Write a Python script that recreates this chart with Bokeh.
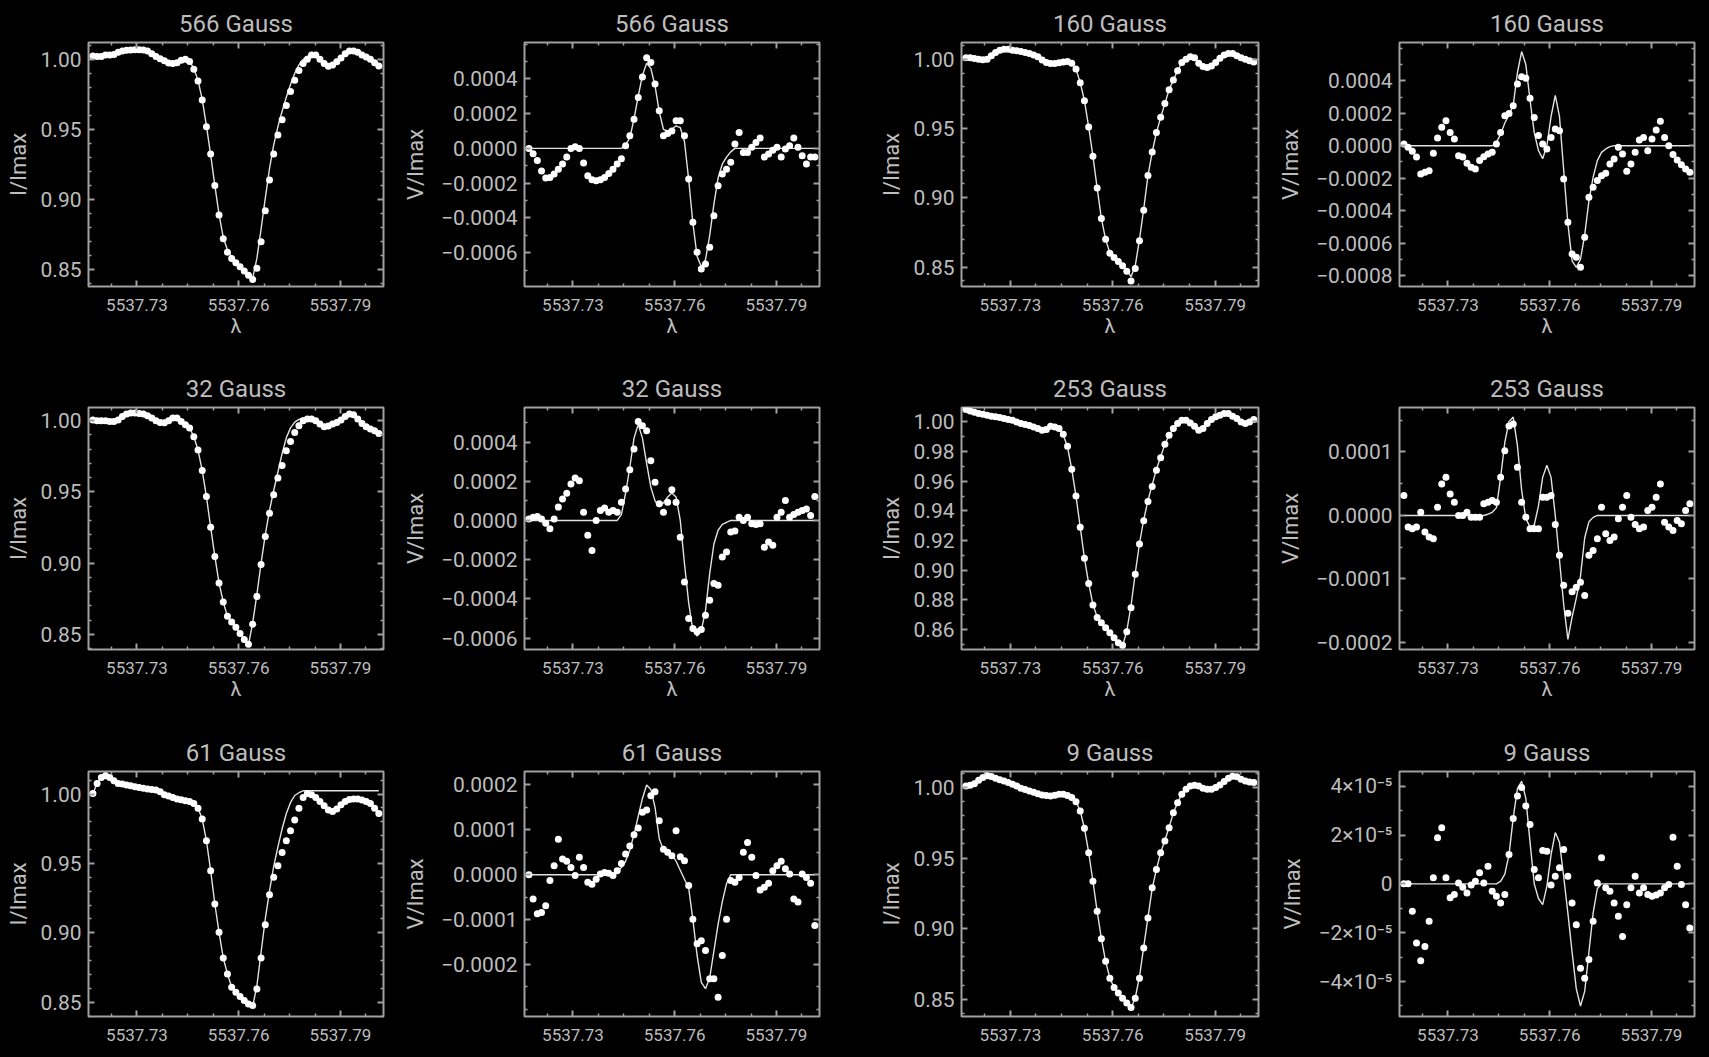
from bokeh.plotting import figure
from bokeh.models import Range1d, LinearAxis, FixedTicker, CustomJSTickFormatter, ColumnDataSource
from bokeh.layouts import row, column
from bokeh.embed import file_html
from bokeh.resources import INLINE

# ---------------- data ----------------
WAVE = [5537.71700, 5537.71824, 5537.71948, 5537.72072, 5537.72196, 5537.72320, 5537.72444, 5537.72568,
        5537.72692, 5537.72816, 5537.72940, 5537.73064, 5537.73188, 5537.73312, 5537.73436, 5537.73560,
        5537.73684, 5537.73808, 5537.73932, 5537.74056, 5537.74180, 5537.74304, 5537.74428, 5537.74552,
        5537.74676, 5537.74800, 5537.74924, 5537.75048, 5537.75172, 5537.75296, 5537.75420, 5537.75544,
        5537.75668, 5537.75792, 5537.75916, 5537.76040, 5537.76164, 5537.76288, 5537.76412, 5537.76536,
        5537.76660, 5537.76784, 5537.76908, 5537.77032, 5537.77156, 5537.77280, 5537.77404, 5537.77528,
        5537.77652, 5537.77776, 5537.77900, 5537.78024, 5537.78148, 5537.78272, 5537.78396, 5537.78520,
        5537.78644, 5537.78768, 5537.78892, 5537.79016, 5537.79140, 5537.79264, 5537.79388, 5537.79512,
        5537.79636, 5537.79760, 5537.79884, 5537.80008, 5537.80132]

I566 = [1.0024, 1.0020, 1.0020, 1.0030, 1.0030, 1.0035, 1.0050, 1.0060, 1.0064, 1.0066,
        1.0069, 1.0069, 1.0066, 1.0060, 1.0040, 1.0020, 1.0005, 0.9990, 0.9974, 0.9970,
        0.9976, 0.9993, 1.0000, 0.9985, 0.9930, 0.9845, 0.9710, 0.9520, 0.9325, 0.9100,
        0.8890, 0.8720, 0.8625, 0.8580, 0.8550, 0.8520, 0.8490, 0.8460, 0.8430, 0.8510,
        0.8700, 0.8920, 0.9140, 0.9325, 0.9460, 0.9570, 0.9670, 0.9770, 0.9850, 0.9920,
        0.9970, 1.0000, 1.0030, 1.0030, 1.0000, 0.9970, 0.9950, 0.9960, 0.9983, 1.0010,
        1.0040, 1.0060, 1.0060, 1.0050, 1.0030, 1.0017, 1.0000, 0.9976, 0.9953]
I566_FIT = [1.0024, 1.0020, 1.0020, 1.0030, 1.0030, 1.0035, 1.0050, 1.0060, 1.0064, 1.0066,
            1.0069, 1.0069, 1.0066, 1.0060, 1.0040, 1.0020, 1.0005, 0.9990, 0.9974, 0.9970,
            0.9976, 0.9993, 1.0000, 0.9985, 0.9935, 0.9850, 0.9715, 0.9525, 0.9320, 0.9100,
            0.8895, 0.8730, 0.8640, 0.8590, 0.8555, 0.8520, 0.8490, 0.8460, 0.8440, 0.8580,
            0.8790, 0.9010, 0.9220, 0.9390, 0.9520, 0.9630, 0.9730, 0.9820, 0.9900, 0.9960,
            1.0000, 1.0020, 1.0030, 1.0030, 1.0000, 0.9970, 0.9950, 0.9960, 0.9983, 1.0010,
            1.0040, 1.0060, 1.0060, 1.0050, 1.0030, 1.0017, 1.0000, 0.9976, 0.9953]

V566 = [0.0, -0.30e-4, -0.70e-4, -1.30e-4, -1.70e-4, -1.67e-4, -1.47e-4, -1.20e-4, -0.90e-4, -0.50e-4,
        0.0, 0.10e-4, 0.0, -0.84e-4, -1.57e-4, -1.80e-4, -1.86e-4, -1.80e-4, -1.67e-4, -1.44e-4,
        -1.20e-4, -0.90e-4, -0.60e-4, 0.15e-4, 0.73e-4, 1.68e-4, 2.93e-4, 4.10e-4, 5.22e-4, 4.94e-4,
        3.70e-4, 2.16e-4, 0.73e-4, 0.86e-4, 1.00e-4, 1.59e-4, 1.59e-4, 0.73e-4, -1.76e-4, -4.25e-4,
        -5.97e-4, -6.93e-4, -6.64e-4, -5.68e-4, -3.87e-4, -2.14e-4, -1.47e-4, -1.20e-4, -0.80e-4, 0.25e-4,
        0.92e-4, -0.23e-4, -0.23e-4, 0.06e-4, 0.34e-4, 0.60e-4, -0.50e-4, -0.32e-4, -0.10e-4, 0.06e-4,
        -0.50e-4, -0.04e-4, 0.15e-4, 0.60e-4, 0.06e-4, -0.42e-4, -0.90e-4, -0.50e-4, -0.50e-4]
V566_FIT = [0, 0, 0, 0, 0, 0, 0, 0, 0, 0,
            0, 0, 0, 0, 0, 0, 0, 0, 0, 0,
            0, 0, 0, 0.2e-4, 0.6e-4, 1.7e-4, 3.0e-4, 4.2e-4, 4.9e-4, 4.6e-4,
            3.6e-4, 2.1e-4, 1.1e-4, 1.0e-4, 1.1e-4, 1.3e-4, 1.2e-4, 0.4e-4, -1.8e-4, -4.3e-4,
            -6.2e-4, -6.8e-4, -6.4e-4, -5.0e-4, -3.2e-4, -1.7e-4, -0.9e-4, -0.5e-4, -0.2e-4, 0,
            0, 0, 0, 0, 0, 0, 0, 0, 0, 0,
            0, 0, 0, 0, 0, 0, 0, 0, 0]

I160 = [1.0010, 1.0010, 1.0005, 1.0000, 0.9995, 1.0000, 1.0024, 1.0048, 1.0065, 1.0072,
        1.0072, 1.0065, 1.0060, 1.0055, 1.0048, 1.0040, 1.0030, 1.0017, 0.9993, 0.9976,
        0.9969, 0.9969, 0.9974, 0.9980, 0.9983, 0.9970, 0.9928, 0.9830, 0.9700, 0.9510,
        0.9300, 0.9070, 0.8850, 0.8700, 0.8600, 0.8570, 0.8540, 0.8510, 0.8470, 0.8400,
        0.8490, 0.8690, 0.8910, 0.9160, 0.9330, 0.9470, 0.9580, 0.9680, 0.9780, 0.9850,
        0.9916, 0.9976, 1.0000, 1.0017, 1.0010, 0.9970, 0.9947, 0.9940, 0.9950, 0.9976,
        1.0007, 1.0030, 1.0040, 1.0040, 1.0024, 1.0010, 1.0000, 0.9988, 0.9980]
I160_FIT = [1.0010, 1.0010, 1.0005, 1.0000, 0.9995, 1.0000, 1.0024, 1.0048, 1.0065, 1.0072,
            1.0072, 1.0065, 1.0060, 1.0055, 1.0048, 1.0040, 1.0030, 1.0017, 0.9993, 0.9976,
            0.9969, 0.9969, 0.9974, 0.9980, 0.9983, 0.9970, 0.9928, 0.9830, 0.9700, 0.9510,
            0.9300, 0.9070, 0.8850, 0.8700, 0.8600, 0.8570, 0.8540, 0.8510, 0.8480, 0.8430,
            0.8510, 0.8700, 0.8920, 0.9160, 0.9330, 0.9470, 0.9580, 0.9680, 0.9780, 0.9850,
            0.9916, 0.9976, 1.0000, 1.0017, 1.0010, 0.9970, 0.9947, 0.9940, 0.9950, 0.9976,
            1.0007, 1.0030, 1.0040, 1.0040, 1.0024, 1.0010, 1.0000, 0.9988, 0.9980]

V160 = [0.10e-4, -0.10e-4, -0.35e-4, -0.70e-4, -1.74e-4, -1.64e-4, -1.54e-4, -0.47e-4, 0.47e-4, 1.13e-4,
        1.54e-4, 0.82e-4, 0.41e-4, -0.62e-4, -0.70e-4, -1.09e-4, -1.33e-4, -1.44e-4, -0.92e-4, -0.68e-4,
        -0.51e-4, -0.41e-4, 0.10e-4, 0.82e-4, 1.85e-4, 1.99e-4, 2.46e-4, 3.80e-4, 4.25e-4, 4.16e-4,
        2.93e-4, 1.74e-4, 0.62e-4, 0.10e-4, -0.20e-4, 0.51e-4, 1.03e-4, 0.92e-4, -2.05e-4, -4.72e-4,
        -6.67e-4, -6.87e-4, -7.49e-4, -5.64e-4, -3.18e-4, -2.56e-4, -2.15e-4, -1.85e-4, -1.70e-4, -1.13e-4,
        -0.82e-4, -0.10e-4, -0.51e-4, -1.58e-4, -1.13e-4, -0.41e-4, 0.35e-4, 0.51e-4, -0.31e-4, 0.41e-4,
        0.96e-4, 1.50e-4, 0.51e-4, 0.0, -0.55e-4, -0.88e-4, -1.17e-4, -1.44e-4, -1.64e-4]
V160_FIT = [0, 0, 0, 0, 0, 0, 0, 0, 0, 0,
            0, 0, 0, 0, 0, 0, 0, 0, 0, 0,
            0, 0, 0.2e-4, 0.7e-4, 1.4e-4, 1.9e-4, 2.5e-4, 4.5e-4, 5.8e-4, 5.0e-4,
            2.8e-4, 0.8e-4, -0.3e-4, -0.8e-4, 0.0, 1.8e-4, 3.1e-4, 1.8e-4, -1.5e-4, -4.8e-4,
            -7.1e-4, -7.5e-4, -7.0e-4, -5.5e-4, -3.4e-4, -1.95e-4, -0.92e-4, -0.41e-4, -0.2e-4, -0.06e-4,
            0, 0, 0, 0, 0, 0, 0, 0, 0, 0,
            0, 0, 0, 0, 0, 0, 0, 0, 0]

I32 = [1.0005, 1.0000, 1.0000, 1.0000, 0.9995, 0.9995, 1.0005, 1.0030, 1.0047, 1.0054,
       1.0054, 1.0051, 1.0047, 1.0035, 1.0019, 1.0000, 0.9988, 0.9986, 1.0000, 1.0019,
       1.0019, 0.9995, 0.9972, 0.9949, 0.9888, 0.9794, 0.9650, 0.9467, 0.9252, 0.9047,
       0.8860, 0.8727, 0.8626, 0.8586, 0.8550, 0.8505, 0.8463, 0.8430, 0.8570, 0.8766,
       0.8990, 0.9187, 0.9350, 0.9480, 0.9598, 0.9685, 0.9790, 0.9855, 0.9918, 0.9965,
       1.0000, 1.0012, 1.0012, 1.0000, 0.9977, 0.9958, 0.9963, 0.9977, 0.9988, 1.0005,
       1.0030, 1.0047, 1.0042, 1.0012, 0.9981, 0.9958, 0.9942, 0.9930, 0.9911]
I32_FIT = [1.0005, 1.0000, 1.0000, 1.0000, 0.9995, 0.9995, 1.0005, 1.0030, 1.0047, 1.0054,
           1.0054, 1.0051, 1.0047, 1.0035, 1.0019, 1.0000, 0.9988, 0.9986, 1.0000, 1.0019,
           1.0019, 0.9995, 0.9972, 0.9949, 0.9888, 0.9794, 0.9650, 0.9467, 0.9252, 0.9047,
           0.8860, 0.8727, 0.8626, 0.8586, 0.8550, 0.8505, 0.8463, 0.8425, 0.8580, 0.8780,
           0.9000, 0.9200, 0.9370, 0.9510, 0.9640, 0.9770, 0.9880, 0.9950, 0.9990, 1.0010,
           1.0020, 1.0020, 1.0012, 1.0000, 0.9977, 0.9958, 0.9963, 0.9977, 0.9988, 1.0005,
           1.0030, 1.0047, 1.0042, 1.0012, 0.9981, 0.9958, 0.9942, 0.9930, 0.9911]

V32 = [0.08e-4, 0.17e-4, 0.20e-4, 0.08e-4, -0.14e-4, -0.42e-4, 0.08e-4, 0.68e-4, 1.10e-4, 1.39e-4,
       1.86e-4, 2.17e-4, 2.03e-4, 0.42e-4, -0.76e-4, -1.53e-4, 0.0, 0.51e-4, 0.64e-4, 0.42e-4,
       0.51e-4, 0.42e-4, 0.93e-4, 1.61e-4, 2.58e-4, 3.64e-4, 5.05e-4, 4.83e-4, 4.58e-4, 3.05e-4,
       1.95e-4, 0.85e-4, 0.42e-4, 0.93e-4, 1.56e-4, 0.93e-4, -0.85e-4, -3.14e-4, -5.00e-4, -5.51e-4,
       -5.68e-4, -5.56e-4, -4.83e-4, -4.07e-4, -3.22e-4, -3.30e-4, -1.86e-4, -1.61e-4, -0.59e-4, -0.54e-4,
       0.17e-4, 0.0, 0.17e-4, -0.17e-4, -0.20e-4, -0.17e-4, -1.36e-4, -1.10e-4, -1.27e-4, 0.17e-4,
       0.42e-4, 1.02e-4, 0.17e-4, 0.31e-4, 0.42e-4, 0.51e-4, 0.59e-4, 0.25e-4, 1.22e-4]
V32_FIT = [0, 0, 0, 0, 0, 0, 0, 0, 0, 0,
           0, 0, 0, 0, 0, 0, 0, 0, 0, 0,
           0, 0, 0.3e-4, 1.4e-4, 2.7e-4, 4.2e-4, 4.9e-4, 4.2e-4, 2.9e-4, 1.7e-4,
           1.0e-4, 0.7e-4, 0.9e-4, 1.2e-4, 1.4e-4, 1.2e-4, 0.0, -2.2e-4, -4.2e-4, -5.6e-4,
           -5.9e-4, -5.6e-4, -4.6e-4, -2.7e-4, -1.2e-4, -0.5e-4, -0.2e-4, -0.1e-4, 0, 0,
           0, 0, 0, 0, 0, 0, 0, 0, 0, 0,
           0, 0, 0, 0, 0, 0, 0, 0, 0]

I253 = [1.0084, 1.0074, 1.0065, 1.0056, 1.0052, 1.0045, 1.0038, 1.0034, 1.0029, 1.0023,
        1.0016, 1.0011, 1.0000, 0.9989, 0.9982, 0.9975, 0.9966, 0.9955, 0.9944, 0.9948,
        0.9971, 0.9966, 0.9955, 0.9916, 0.9835, 0.9680, 0.9500, 0.9290, 0.9080, 0.8910,
        0.8765, 0.8680, 0.8646, 0.8612, 0.8578, 0.8544, 0.8510, 0.8494, 0.8585, 0.8747,
        0.8973, 0.9176, 0.9334, 0.9463, 0.9564, 0.9673, 0.9758, 0.9849, 0.9910, 0.9955,
        0.9989, 1.0011, 1.0011, 0.9993, 0.9971, 0.9944, 0.9955, 0.9989, 1.0016, 1.0034,
        1.0045, 1.0056, 1.0056, 1.0038, 1.0023, 1.0000, 0.9989, 1.0000, 1.0016]
I253_FIT = [1.0084, 1.0074, 1.0065, 1.0056, 1.0052, 1.0045, 1.0038, 1.0034, 1.0029, 1.0023,
            1.0016, 1.0011, 1.0000, 0.9989, 0.9982, 0.9975, 0.9966, 0.9955, 0.9948, 0.9950,
            0.9965, 0.9964, 0.9952, 0.9912, 0.9830, 0.9680, 0.9500, 0.9290, 0.9080, 0.8910,
            0.8770, 0.8685, 0.8646, 0.8612, 0.8578, 0.8544, 0.8510, 0.8490, 0.8590, 0.8760,
            0.8980, 0.9180, 0.9340, 0.9470, 0.9575, 0.9680, 0.9765, 0.9850, 0.9910, 0.9955,
            0.9989, 1.0011, 1.0011, 0.9993, 0.9971, 0.9950, 0.9960, 0.9989, 1.0016, 1.0034,
            1.0045, 1.0056, 1.0056, 1.0038, 1.0023, 1.0005, 0.9995, 1.0000, 1.0016]

V253 = [3.14e-5, -1.83e-5, -2.09e-5, -1.83e-5, 0.52e-5, -2.62e-5, -3.40e-5, -3.66e-5, 1.31e-5, 4.97e-5,
        6.02e-5, 3.40e-5, 2.09e-5, 0.0, 0.0, 0.52e-5, -0.26e-5, -0.26e-5, -0.26e-5, 1.83e-5,
        2.09e-5, 2.36e-5, 2.09e-5, 6.02e-5, 10.2e-5, 14.1e-5, 14.4e-5, 7.59e-5, 2.09e-5, -0.26e-5,
        -2.09e-5, -2.09e-5, -2.09e-5, 2.88e-5, 2.88e-5, 3.14e-5, -1.41e-5, -6.28e-5, -11.0e-5, -15.4e-5,
        -12.0e-5, -11.3e-5, -10.5e-5, -12.6e-5, -6.28e-5, -5.50e-5, -3.66e-5, 1.31e-5, -2.88e-5, -3.93e-5,
        -3.40e-5, -0.52e-5, 1.31e-5, 3.14e-5, -0.26e-5, -1.41e-5, -2.09e-5, -1.83e-5, 0.78e-5, 1.31e-5,
        2.88e-5, 4.97e-5, -1.05e-5, -1.83e-5, -2.36e-5, -0.78e-5, -1.31e-5, 0.78e-5, 1.83e-5]
V253_FIT = [0, 0, 0, 0, 0, 0, 0, 0, 0, 0,
            0, 0, 0, 0, 0, 0, 0, 0, 0, 0,
            0.2e-5, 0.5e-5, 1.2e-5, 6.0e-5, 11.5e-5, 14.8e-5, 15.5e-5, 11.0e-5, 4.0e-5, -0.5e-5,
            -1.8e-5, -1.5e-5, 1.5e-5, 6.0e-5, 7.9e-5, 6.0e-5, 0.0, -7.0e-5, -14.0e-5, -19.5e-5,
            -16.0e-5, -13.0e-5, -9.5e-5, -3.5e-5, -1.0e-5, -0.3e-5, 0, 0, 0, 0,
            0, 0, 0, 0, 0, 0, 0, 0, 0, 0,
            0, 0, 0, 0, 0, 0, 0, 0, 0]

I61 = [1.0005, 1.0077, 1.0120, 1.0132, 1.0120, 1.0096, 1.0077, 1.0072, 1.0065, 1.0060,
       1.0053, 1.0048, 1.0043, 1.0036, 1.0034, 1.0029, 1.0017, 0.9995, 0.9986, 0.9976,
       0.9964, 0.9959, 0.9952, 0.9947, 0.9933, 0.9899, 0.9820, 0.9664, 0.9448, 0.9208,
       0.9004, 0.8819, 0.8704, 0.8608, 0.8572, 0.8541, 0.8512, 0.8488, 0.8476, 0.8596,
       0.8819, 0.9059, 0.9275, 0.9400, 0.9484, 0.9580, 0.9664, 0.9736, 0.9813, 0.9899,
       0.9976, 1.0005, 0.9995, 0.9976, 0.9947, 0.9916, 0.9885, 0.9875, 0.9892, 0.9923,
       0.9947, 0.9962, 0.9964, 0.9964, 0.9957, 0.9947, 0.9933, 0.9899, 0.9861]
I61_FIT = [1.0005, 1.0077, 1.0120, 1.0132, 1.0120, 1.0096, 1.0077, 1.0072, 1.0065, 1.0060,
           1.0053, 1.0048, 1.0043, 1.0036, 1.0034, 1.0029, 1.0017, 0.9995, 0.9986, 0.9976,
           0.9964, 0.9959, 0.9952, 0.9947, 0.9933, 0.9899, 0.9820, 0.9664, 0.9448, 0.9208,
           0.9004, 0.8819, 0.8704, 0.8608, 0.8572, 0.8541, 0.8512, 0.8488, 0.8470, 0.8620,
           0.8860, 0.9100, 0.9300, 0.9480, 0.9620, 0.9750, 0.9860, 0.9940, 0.9990, 1.0010,
           1.0024, 1.0024, 1.0024, 1.0024, 1.0024, 1.0024, 1.0024, 1.0024, 1.0024, 1.0024,
           1.0024, 1.0024, 1.0024, 1.0024, 1.0024, 1.0024, 1.0024, 1.0024, 1.0024]

V61 = [0.0, -5.4e-5, -8.7e-5, -8.4e-5, -6.9e-5, -1.3e-5, 2.0e-5, 7.9e-5, 3.5e-5, 3.0e-5,
       1.6e-5, -0.2e-5, 3.9e-5, 1.6e-5, -1.7e-5, -2.1e-5, -1.0e-5, 0.15e-5, 0.5e-5, 0.3e-5,
       -0.2e-5, 0.9e-5, 2.5e-5, 4.6e-5, 6.4e-5, 8.9e-5, 10.4e-5, 13.9e-5, 14.4e-5, 17.6e-5,
       18.5e-5, 12.0e-5, 5.7e-5, 5.0e-5, 4.2e-5, 9.8e-5, 4.0e-5, 3.1e-5, -2.4e-5, -9.9e-5,
       -15.4e-5, -14.7e-5, -16.9e-5, -23.2e-5, -23.2e-5, -27.3e-5, -18.0e-5, -9.9e-5, -1.3e-5, -1.7e-5,
       -0.6e-5, 5.0e-5, 7.2e-5, 3.9e-5, -0.2e-5, -3.4e-5, -2.8e-5, -1.9e-5, 0.9e-5, 2.0e-5,
       3.0e-5, 1.3e-5, 0.15e-5, -5.4e-5, -6.1e-5, 0.15e-5, -0.6e-5, -1.9e-5, -11.3e-5]
V61_FIT = [0, 0, 0, 0, 0, 0, 0, 0, 0, 0,
           0, 0, 0, 0, 0, 0, 0, 0, 0, 0,
           0, 0.8e-5, 1.6e-5, 3.0e-5, 5.5e-5, 9.0e-5, 13.0e-5, 17.0e-5, 20.0e-5, 19.0e-5,
           15.0e-5, 8.0e-5, 5.5e-5, 5.0e-5, 4.6e-5, 3.0e-5, 1.0e-5, -1.0e-5, -3.0e-5, -10.0e-5,
           -18.0e-5, -24.0e-5, -25.4e-5, -23.0e-5, -17.0e-5, -11.0e-5, -6.0e-5, -2.0e-5, 0, 0,
           0, 0, 0, 0, 0, 0, 0, 0, 0, 0,
           0, 0, 0, 0, 0, 0, 0, 0, 0]

I9 = [1.0012, 1.0017, 1.0028, 1.0052, 1.0071, 1.0083, 1.0078, 1.0066, 1.0055, 1.0047,
      1.0036, 1.0024, 1.0012, 0.9995, 0.9986, 0.9976, 0.9967, 0.9957, 0.9948, 0.9943,
      0.9941, 0.9945, 0.9953, 0.9953, 0.9943, 0.9929, 0.9900, 0.9834, 0.9711, 0.9538,
      0.9336, 0.9123, 0.8929, 0.8768, 0.8649, 0.8583, 0.8543, 0.8507, 0.8472, 0.8441,
      0.8507, 0.8649, 0.8863, 0.9076, 0.9289, 0.9419, 0.9538, 0.9621, 0.9716, 0.9822,
      0.9893, 0.9953, 0.9988, 1.0012, 1.0017, 1.0012, 0.9995, 0.9988, 0.9988, 1.0000,
      1.0019, 1.0043, 1.0066, 1.0081, 1.0076, 1.0059, 1.0047, 1.0040, 1.0036]
I9_FIT = [1.0012, 1.0017, 1.0028, 1.0052, 1.0071, 1.0083, 1.0078, 1.0066, 1.0055, 1.0047,
          1.0036, 1.0024, 1.0012, 0.9995, 0.9986, 0.9976, 0.9967, 0.9957, 0.9948, 0.9943,
          0.9941, 0.9945, 0.9953, 0.9953, 0.9943, 0.9929, 0.9900, 0.9834, 0.9711, 0.9538,
          0.9336, 0.9123, 0.8929, 0.8768, 0.8649, 0.8583, 0.8543, 0.8507, 0.8472, 0.8435,
          0.8510, 0.8660, 0.8870, 0.9080, 0.9285, 0.9420, 0.9540, 0.9625, 0.9720, 0.9822,
          0.9893, 0.9953, 0.9988, 1.0012, 1.0017, 1.0012, 0.9995, 0.9988, 0.9988, 1.0000,
          1.0019, 1.0043, 1.0066, 1.0081, 1.0076, 1.0059, 1.0047, 1.0040, 1.0036]

V9 = [0.0, 0.0, -1.12e-5, -2.42e-5, -3.15e-5, -2.56e-5, -1.53e-5, 0.25e-5, 1.89e-5, 2.30e-5,
      0.25e-5, -0.57e-5, -0.44e-5, 0.04e-5, -0.14e-5, -0.37e-5, -0.05e-5, 0.11e-5, 0.45e-5, 0.04e-5,
      0.72e-5, -0.30e-5, -0.51e-5, -0.78e-5, -0.44e-5, 1.20e-5, 2.68e-5, 3.60e-5, 3.94e-5, 3.19e-5,
      2.43e-5, 0.59e-5, 0.25e-5, 1.37e-5, 1.34e-5, -0.05e-5, 0.31e-5, 0.66e-5, 1.41e-5, 0.31e-5,
      -0.78e-5, -1.67e-5, -3.45e-5, -3.86e-5, -3.10e-5, -1.53e-5, 0.04e-5, 1.07e-5, -0.16e-5, -0.30e-5,
      -0.78e-5, -1.33e-5, -2.15e-5, -0.85e-5, -0.16e-5, 0.31e-5, -0.37e-5, -0.16e-5, -0.44e-5, -0.51e-5,
      -0.46e-5, -0.37e-5, -0.16e-5, -0.03e-5, 1.91e-5, 0.72e-5, -0.03e-5, -0.85e-5, -1.81e-5]
V9_FIT = [0, 0, 0, 0, 0, 0, 0, 0, 0, 0,
          0, 0, 0, 0, 0, 0, 0, 0, 0, 0,
          0, 0, 0, 0.1e-5, 0.4e-5, 1.2e-5, 2.7e-5, 3.9e-5, 4.2e-5, 3.5e-5,
          1.7e-5, 0.0, -0.6e-5, -0.85e-5, -0.1e-5, 1.2e-5, 2.1e-5, 1.7e-5, 0.3e-5, -1.2e-5,
          -2.8e-5, -4.3e-5, -5.0e-5, -4.4e-5, -2.8e-5, -1.2e-5, -0.2e-5, 0, 0, 0,
          0, 0, 0, 0, 0, 0, 0, 0, 0, 0,
          0, 0, 0, 0, 0, 0, 0, 0, 0]

# ---------------- ticks / ranges ----------------
X_RANGE = (5537.7157, 5537.8027)
X_MAJOR = [5537.73, 5537.76, 5537.79]
X_MINOR = [5537.7225, 5537.7375, 5537.745, 5537.7525, 5537.7675, 5537.775, 5537.7825, 5537.7975]

I_MAJOR = [0.85, 0.90, 0.95, 1.00]
I_MINOR = [0.84, 0.86, 0.87, 0.88, 0.89, 0.91, 0.92, 0.93, 0.94, 0.96, 0.97, 0.98, 0.99, 1.01]
I253_MAJOR = [0.86, 0.88, 0.90, 0.92, 0.94, 0.96, 0.98, 1.00]
I253_MINOR = [0.85, 0.87, 0.89, 0.91, 0.93, 0.95, 0.97, 0.99, 1.01]
VA_MAJOR = [-0.0006, -0.0004, -0.0002, 0.0, 0.0002, 0.0004]
VB_MAJOR = [-0.0008, -0.0006, -0.0004, -0.0002, 0.0, 0.0002, 0.0004]
VA_MINOR = [-0.0008, -0.0007, -0.0005, -0.0003, -0.0001, 0.0001, 0.0003, 0.0005, 0.0006]
V253_MAJOR = [-0.0002, -0.0001, 0.0, 0.0001]
V253_MINOR = [-0.00015, -0.00005, 0.00005, 0.00015]
V61_MAJOR = [-0.0002, -0.0001, 0.0, 0.0001, 0.0002]
V61_MINOR = [-0.0003, -0.00025, -0.00015, -0.00005, 0.00005, 0.00015]
V9_MAJOR = [-4e-5, -2e-5, 0.0, 2e-5, 4e-5]
V9_MINOR = [-5e-5, -3e-5, -1e-5, 1e-5, 3e-5]

FMT_2 = "return tick.toFixed(2);"
FMT_4 = "return (tick < 0 ? '\u2212' : '') + Math.abs(tick).toFixed(4);"
FMT_E = ("var m = Math.round(tick * 1e5); if (m === 0) { return '0'; } "
         "return (m < 0 ? '\u2212' : '') + Math.abs(m) + '\u00d710\u207b\u2075';")

PANELS = [
    [("566 Gauss", I566, I566_FIT, (0.838, 1.012), I_MAJOR, I_MINOR, FMT_2, "I/Imax", 7),
     ("566 Gauss", V566, V566_FIT, (-0.000794, 0.000609), VA_MAJOR, VA_MINOR, FMT_4, "V/Imax", 10),
     ("160 Gauss", I160, I160_FIT, (0.836, 1.012), I_MAJOR, I_MINOR, FMT_2, "I/Imax", 7),
     ("160 Gauss", V160, V160_FIT, (-0.000868, 0.000636), VB_MAJOR, VA_MINOR, FMT_4, "V/Imax", 10)],
    [("32 Gauss", I32, I32_FIT, (0.8393, 1.0093), I_MAJOR, I_MINOR, FMT_2, "I/Imax", 7),
     ("32 Gauss", V32, V32_FIT, (-0.000658, 0.000576), VA_MAJOR, VA_MINOR, FMT_4, "V/Imax", 10),
     ("253 Gauss", I253, I253_FIT, (0.8465, 1.0097), I253_MAJOR, I253_MINOR, FMT_2, "I/Imax", 7),
     ("253 Gauss", V253, V253_FIT, (-0.000211, 0.000170), V253_MAJOR, V253_MINOR, FMT_4, "V/Imax", 10)],
    [("61 Gauss", I61, I61_FIT, (0.8397, 1.0163), I_MAJOR, I_MINOR, FMT_2, "I/Imax", 7),
     ("61 Gauss", V61, V61_FIT, (-0.000316, 0.000230), V61_MAJOR, V61_MINOR, FMT_4, "V/Imax", 10),
     ("9 Gauss", I9, I9_FIT, (0.8377, 1.0114), I_MAJOR, I_MINOR, FMT_2, "I/Imax", 7),
     ("9 Gauss", V9, V9_FIT, (-5.43e-5, 4.6e-5), V9_MAJOR, V9_MINOR, FMT_E, "V/Imax", 10)],
]

# ---------------- layout geometry ----------------
COL_W = [395, 435, 440, 431]
COL_BL = [88, 129, 131, 129]
COL_BR = [12, 11, 12, 7]
ROW_H = [355, 365, 329]
ROW_BT = [42, 52, 51]
ROW_BB = [69, 71, 33]

BG = "#000000"
TXT = "#bdbdbd"
FRAME = "#a0a0a0"
FONT = "Roboto"


def tick_style(ax):
    ax.axis_line_color = None
    ax.major_tick_in = 6
    ax.major_tick_out = 0
    ax.minor_tick_in = 3
    ax.minor_tick_out = 0
    ax.major_tick_line_color = FRAME
    ax.minor_tick_line_color = FRAME
    ax.major_tick_line_width = 2
    ax.minor_tick_line_width = 1.5


def blank_axis(ticker):
    ax = LinearAxis(ticker=ticker, formatter=CustomJSTickFormatter(code="return '';"),
                    major_label_text_font_size="0px", major_label_standoff=0)
    tick_style(ax)
    return ax


rows = []
for r, panel_row in enumerate(PANELS):
    figs = []
    for c, (title, obs, fit, yr, ymaj, ymin, fmt, ylab, ystand) in enumerate(panel_row):
        p = figure(width=COL_W[c], height=ROW_H[r],
                   x_range=Range1d(*X_RANGE), y_range=Range1d(*yr),
                   output_backend="svg", toolbar_location=None, tools="",
                   min_border_left=COL_BL[c], min_border_right=COL_BR[c],
                   min_border_top=ROW_BT[r], min_border_bottom=ROW_BB[r],
                   background_fill_color=BG, border_fill_color=BG,
                   outline_line_color=FRAME, outline_line_width=2, title=title)
        p.grid.visible = False
        p.title.text_color = TXT
        p.title.text_font = FONT
        p.title.text_font_size = "24px"
        p.title.text_font_style = "normal"
        p.title.align = "center"
        p.title.standoff = 9

        src = ColumnDataSource(dict(wave=WAVE, obs=obs, fit=fit))
        p.line(x="wave", y="fit", source=src, line_color="#e2e2e2", line_width=1.4)
        p.scatter(x="wave", y="obs", source=src, size=7, fill_color="white", line_color=None)

        xt = FixedTicker(ticks=X_MAJOR, minor_ticks=X_MINOR)
        yt = FixedTicker(ticks=ymaj, minor_ticks=ymin)

        xa = p.xaxis[0]
        xa.ticker = xt
        xa.formatter = CustomJSTickFormatter(code=FMT_2)
        tick_style(xa)
        xa.major_label_text_color = TXT
        xa.major_label_text_font = FONT
        xa.major_label_text_font_size = "17px"
        xa.major_label_standoff = 12
        if r < 2:
            xa.axis_label = "\u03bb"
            xa.axis_label_text_color = TXT
            xa.axis_label_text_font = FONT
            xa.axis_label_text_font_size = "20px"
            xa.axis_label_text_font_style = "normal"
            xa.axis_label_standoff = 0

        ya = p.yaxis[0]
        ya.ticker = yt
        ya.formatter = CustomJSTickFormatter(code=fmt)
        tick_style(ya)
        ya.major_label_text_color = TXT
        ya.major_label_text_font = FONT
        ya.major_label_text_font_size = "21px"
        ya.major_label_standoff = 7
        ya.axis_label = ylab
        ya.axis_label_text_color = TXT
        ya.axis_label_text_font = FONT
        ya.axis_label_text_font_size = "22px"
        ya.axis_label_text_font_style = "normal"
        ya.axis_label_standoff = ystand

        p.add_layout(blank_axis(FixedTicker(ticks=X_MAJOR, minor_ticks=X_MINOR)), "above")
        p.add_layout(blank_axis(FixedTicker(ticks=ymaj, minor_ticks=ymin)), "right")
        figs.append(p)
    rows.append(row(*figs, spacing=0))

layout = column(*rows, spacing=0)

html = file_html(layout, INLINE, title="Stokes I and V profiles")
html = html.replace("</head>", "<style>html, body { background-color: #000000; }</style></head>", 1)
open("out.html", "w").write(html)
